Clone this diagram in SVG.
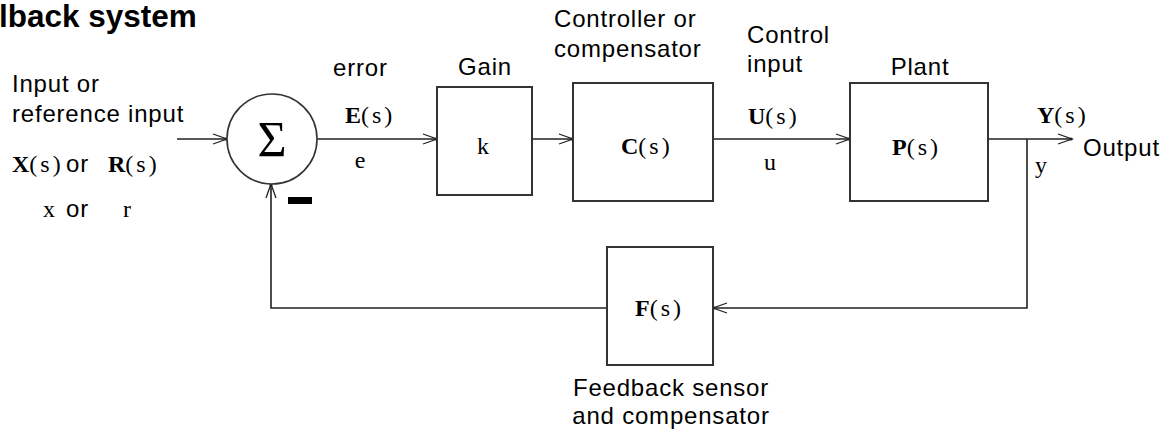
<svg xmlns="http://www.w3.org/2000/svg" width="1165" height="435" viewBox="0 0 1165 435">
  <style>
    .lbl { font-family: "Liberation Sans", Arial, sans-serif; font-size: 24px; letter-spacing: 0.8px; fill: #000; }
    .ttl { font-family: "Liberation Sans", Arial, sans-serif; font-size: 31.5px; font-weight: bold; fill: #000; }
    .m { font-family: "Liberation Serif", "Times New Roman", serif; font-size: 24px; fill: #000; }
    .sig { font-family: "Liberation Serif", "Times New Roman", serif; font-size: 50px; fill: #000; }
    .b { font-weight: bold; }
    .p { letter-spacing: 3px; }
    .box { fill: #fff; stroke: #333; stroke-width: 2; }
    .ln { fill: none; stroke: #222; stroke-width: 1.6; }
  </style>
  <defs>
    <marker id="arr" markerWidth="18" markerHeight="14" viewBox="-16 -7 18 14" refX="0" refY="0" orient="auto" markerUnits="userSpaceOnUse">
      <path d="M-14,-5 L0,0 L-14,5" fill="none" stroke="#222" stroke-width="1.3"/>
      <circle cx="-1" cy="0" r="1.6" fill="#222"/>
    </marker>
  </defs>

  <rect width="1165" height="435" fill="#fff"/>

  <text class="ttl" x="-1" y="27">lback system</text>

  <g id="connectors">
    <line class="ln" x1="177" y1="139" x2="227" y2="139" marker-end="url(#arr)"/>
    <line class="ln" x1="317" y1="139" x2="437" y2="139" marker-end="url(#arr)"/>
    <line class="ln" x1="532" y1="139" x2="573" y2="139" marker-end="url(#arr)"/>
    <line class="ln" x1="713" y1="139" x2="850" y2="139" marker-end="url(#arr)"/>
    <line class="ln" x1="988" y1="139" x2="1072" y2="139" marker-end="url(#arr)"/>
    <polyline class="ln" points="1027,139 1027,308 713,308" marker-end="url(#arr)"/>
    <polyline class="ln" points="607,308 271,308 271,184" marker-end="url(#arr)"/>
  </g>

  <g id="sum">
    <circle cx="272" cy="139" r="45" fill="#fff" stroke="#333" stroke-width="1.6"/>
    <text class="sig" x="272" y="156" text-anchor="middle">Σ</text>
    <rect x="288" y="197" width="24" height="7" fill="#000"/>
  </g>

  <g id="input-labels">
    <text class="lbl" x="12" y="92">Input or</text>
    <text class="lbl" x="12" y="122">reference input</text>
    <text class="m" x="12" y="172"><tspan class="b">X</tspan><tspan class="p">(s)</tspan></text>
    <text class="lbl" x="66" y="172">or</text>
    <text class="m" x="108" y="172"><tspan class="b">R</tspan><tspan class="p">(s)</tspan></text>
    <text class="m" x="43" y="217">x</text>
    <text class="lbl" x="66" y="217">or</text>
    <text class="m" x="123" y="217">r</text>
  </g>

  <g id="error-labels">
    <text class="lbl" x="333" y="76">error</text>
    <text class="m" x="345" y="123"><tspan class="b">E</tspan><tspan class="p">(s)</tspan></text>
    <text class="m" x="360" y="168" text-anchor="middle">e</text>
  </g>

  <g id="gain">
    <rect class="box" x="437" y="87" width="95" height="108"/>
    <text class="lbl" x="485" y="75" text-anchor="middle">Gain</text>
    <text class="m" x="483" y="154" text-anchor="middle">k</text>
  </g>

  <g id="controller">
    <rect class="box" x="573" y="83" width="140" height="118"/>
    <text class="lbl" x="554" y="27">Controller or</text>
    <text class="lbl" x="554" y="57">compensator</text>
    <text class="m" x="621" y="154"><tspan class="b">C</tspan><tspan class="p">(s)</tspan></text>
  </g>

  <g id="control-labels">
    <text class="lbl" x="747" y="43">Control</text>
    <text class="lbl" x="747" y="72">input</text>
    <text class="m" x="748" y="124"><tspan class="b">U</tspan><tspan class="p">(s)</tspan></text>
    <text class="m" x="770" y="170" text-anchor="middle">u</text>
  </g>

  <g id="plant">
    <rect class="box" x="850" y="83" width="138" height="118"/>
    <text class="lbl" x="920" y="75" text-anchor="middle">Plant</text>
    <text class="m" x="892" y="155"><tspan class="b">P</tspan><tspan class="p">(s)</tspan></text>
  </g>

  <g id="output-labels">
    <text class="m" x="1037" y="123"><tspan class="b">Y</tspan><tspan class="p">(s)</tspan></text>
    <text class="lbl" x="1083" y="156">Output</text>
    <text class="m" x="1035" y="173">y</text>
  </g>

  <g id="feedback">
    <rect class="box" x="607" y="247" width="106" height="118"/>
    <text class="m" x="635" y="316"><tspan class="b">F</tspan><tspan class="p">(s)</tspan></text>
    <text class="lbl" x="671" y="396" text-anchor="middle">Feedback sensor</text>
    <text class="lbl" x="671" y="424" text-anchor="middle">and compensator</text>
  </g>
</svg>
